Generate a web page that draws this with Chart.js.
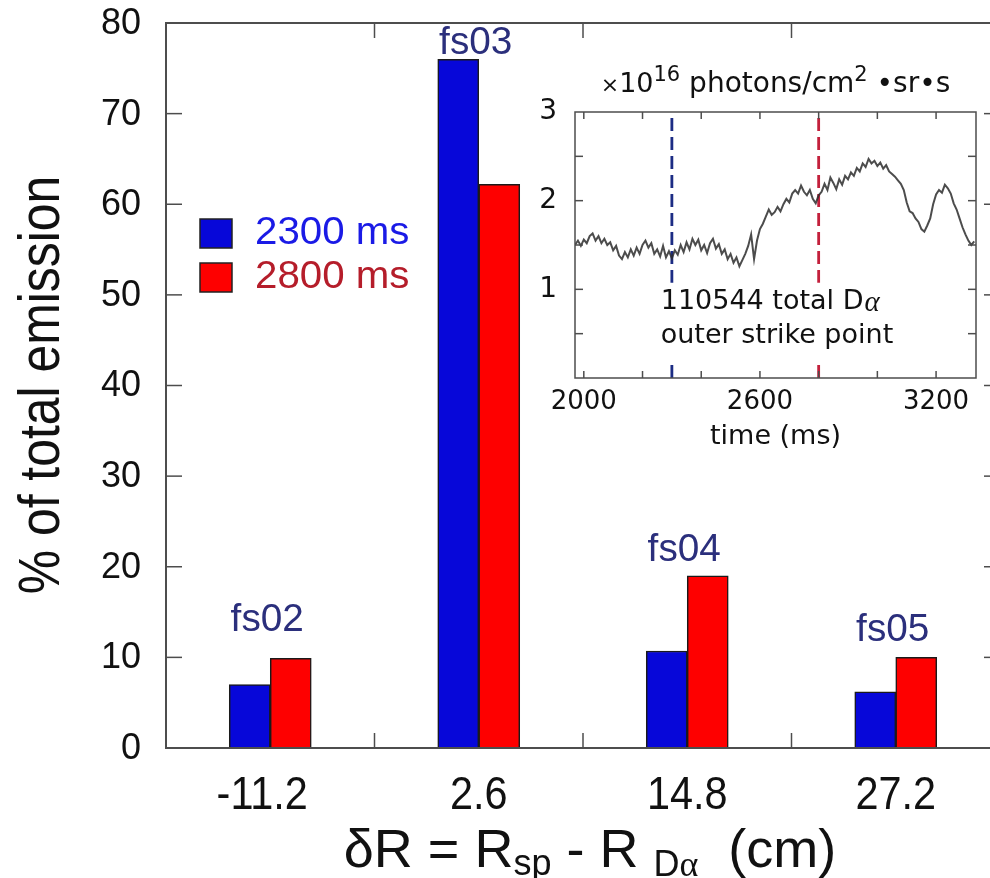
<!DOCTYPE html>
<html>
<head>
<meta charset="utf-8">
<script src="https://cdn.jsdelivr.net/npm/chart.js@4.4.0/dist/chart.umd.min.js"></script>
<style>
  html, body { margin: 0; padding: 0; background: #fff; overflow: hidden; width: 990px; height: 878px; }
  #main { position: absolute; left: 0; top: 0; }
  #inset { position: absolute; left: 540px; top: 55px; }
</style>
</head>
<body>
<canvas id="main" width="1010" height="878"></canvas>
<canvas id="inset" width="450" height="410"></canvas>
<script>
// ---- main bar chart data ----
const categories = ['-11.2', '2.6', '14.8', '27.2'];
const tags = ['fs02', 'fs03', 'fs04', 'fs05'];
const tagLevels = [14.1, 77.7, 21.8, 13.0];   // where the fsNN labels sit (y units)
const seriesNames = ['2300 ms', '2800 ms'];
const series2300 = [7.0, 76.0, 10.7, 6.2];
const series2800 = [9.9, 62.2, 19.0, 10.0];

// ---- inset trace data (total D-alpha, 1e16 photons/cm2 sr s) ----
const traceStart = 1970;
const traceStep = 10;
const traceValues = [
  1.50,1.55,1.49,1.56,1.52,1.60,1.63,1.55,1.60,1.52,
  1.57,1.50,1.53,1.44,1.49,1.38,1.34,1.42,1.36,1.45,
  1.38,1.47,1.40,1.50,1.55,1.47,1.52,1.40,1.45,1.37,
  1.49,1.36,1.43,1.35,1.44,1.39,1.50,1.42,1.53,1.45,
  1.57,1.50,1.56,1.44,1.50,1.41,1.52,1.57,1.46,1.51,
  1.40,1.45,1.34,1.40,1.30,1.36,1.26,1.33,1.40,1.49,
  1.62,1.34,1.55,1.68,1.74,1.82,1.90,1.84,1.87,1.93,
  1.88,1.96,2.02,1.98,2.08,2.12,2.08,2.17,2.10,2.06,
  2.12,2.02,1.97,2.06,2.10,2.19,2.12,2.26,2.20,2.13,
  2.24,2.18,2.28,2.24,2.32,2.28,2.37,2.33,2.42,2.38,
  2.47,2.42,2.45,2.39,2.43,2.36,2.40,2.33,2.30,2.27,
  2.23,2.19,2.12,1.98,1.88,1.86,1.80,1.76,1.68,1.65,
  1.72,1.80,1.96,2.07,2.12,2.09,2.18,2.14,2.08,1.97,
  1.90,1.80,1.70,1.62,1.55,1.50,1.54
];
const markerTimes = [2300, 2800];
const insetXTicks = [2000, 2200, 2400, 2600, 2800, 3000, 3200];
const insetXLabels = [2000, 2600, 3200];
const insetYLabels = [1, 2, 3];
const insetNoteTime = 2262;
const insetNoteLevels = [0.86, 0.47];

const SANS = '"Liberation Sans", Arial, Helvetica, sans-serif';
const WIDE = '"DejaVu Sans", Verdana, sans-serif';
const frameColor = '#4d4d4d';

function line(ctx, x1, y1, x2, y2) {
  ctx.beginPath(); ctx.moveTo(x1, y1); ctx.lineTo(x2, y2); ctx.stroke();
}
// text squeezed horizontally (the original uses a condensed face)
function squeezeText(ctx, str, x, y, sx) {
  ctx.save();
  ctx.translate(x, y);
  ctx.scale(sx, 1);
  ctx.fillText(str, 0, 0);
  ctx.restore();
}
// draw a run of pieces {t, size, dy, family}, centred on cx
function drawRuns(ctx, runs, cx, y, sx, fam) {
  let widths = runs.map(r => { ctx.font = r.size + 'px ' + (r.family || fam); return ctx.measureText(r.t).width * sx; });
  let total = widths.reduce((a, b) => a + b, 0);
  let x = cx - total / 2;
  ctx.textAlign = 'left';
  runs.forEach((r, i) => {
    ctx.font = r.size + 'px ' + (r.family || fam);
    squeezeText(ctx, r.t, x, y + (r.dy || 0), sx);
    x += widths[i];
  });
}

const mainDeco = {
  id: 'mainDeco',
  afterDraw(chart) {
    const ctx = chart.ctx, a = chart.chartArea;
    const xs = chart.scales.x, ys = chart.scales.y;
    ctx.save();
    ctx.strokeStyle = frameColor;
    ctx.lineWidth = 2;
    ctx.strokeRect(a.left, a.top, a.right - a.left, a.bottom - a.top);
    ctx.lineWidth = 1.5;
    ys.ticks.forEach(t => {
      if (t.value <= ys.min || t.value >= ys.max) return;
      const y = ys.getPixelForValue(t.value);
      line(ctx, a.left, y, a.left + 16, y);
      line(ctx, a.right, y, a.right - 16, y);
    });
    for (let i = 0; i < categories.length - 1; i++) {
      const x = (xs.getPixelForValue(i) + xs.getPixelForValue(i + 1)) / 2;
      line(ctx, x, a.bottom, x, a.bottom - 15);
      line(ctx, x, a.top, x, a.top + 15);
    }

    // y tick labels
    ctx.fillStyle = '#111';
    ctx.textAlign = 'right';
    ctx.textBaseline = 'middle';
    ctx.font = '36px ' + SANS;
    ys.ticks.forEach(t => ctx.fillText(String(t.value), a.left - 25, ys.getPixelForValue(t.value) + 1));

    // category labels
    ctx.textAlign = 'center';
    ctx.font = '46px ' + SANS;
    categories.forEach((c, i) => squeezeText(ctx, c, xs.getPixelForValue(i) - (i === 0 ? 8 : 0), 796, 0.9));

    // fsNN tags
    ctx.fillStyle = '#2b2f7c';
    ctx.font = '38px ' + SANS;
    tags.forEach((t, i) => squeezeText(ctx, t, xs.getPixelForValue(i) - 3, ys.getPixelForValue(tagLevels[i]), 1.02));

    // legend
    const legendColors = ['#1a1ae6', '#b51d2a'];
    chart.data.datasets.forEach((ds, k) => {
      const top = 219 + k * 44;
      ctx.fillStyle = ds.backgroundColor;
      ctx.fillRect(200, top, 32, 29);
      ctx.strokeStyle = '#222';
      ctx.lineWidth = 1.5;
      ctx.strokeRect(200, top, 32, 29);
      ctx.fillStyle = legendColors[k];
      ctx.textAlign = 'left';
      ctx.font = '38px ' + SANS;
      squeezeText(ctx, ds.label, 255, top + 15, 1.06);
    });

    // y axis title
    ctx.fillStyle = '#111';
    ctx.save();
    ctx.translate(43, 385);
    ctx.rotate(-Math.PI / 2);
    ctx.textAlign = 'center';
    ctx.font = '58px ' + SANS;
    squeezeText(ctx, '% of total emission', 0, 0, 0.86);
    ctx.restore();

    // x axis title with subscripts
    ctx.textBaseline = 'alphabetic';
    drawRuns(ctx, [
      { t: 'δR = R', size: 54 },
      { t: 'sp', size: 36, dy: 8 },
      { t: ' - R ', size: 54 },
      { t: 'D', size: 36, dy: 9 },
      { t: 'α', size: 36, dy: 9, family: '"Liberation Serif", serif' },
      { t: '  (cm)', size: 54 }
    ], 590, 867, 1.0, SANS);
    ctx.restore();
  }
};

new Chart(document.getElementById('main'), {
  type: 'bar',
  data: {
    labels: categories,
    datasets: [
      { label: seriesNames[0], data: series2300, backgroundColor: '#0707d9', borderColor: '#1a1a1a', borderWidth: 1.5, barThickness: 41 },
      { label: seriesNames[1], data: series2800, backgroundColor: '#fe0000', borderColor: '#1a1a1a', borderWidth: 1.5, barThickness: 41 }
    ]
  },
  options: {
    responsive: false,
    animation: false,
    devicePixelRatio: 1,
    layout: { padding: { left: 0, top: 23, right: 10, bottom: 0 } },
    plugins: { legend: { display: false }, tooltip: { enabled: false } },
    scales: {
      x: {
        grid: { display: false, drawTicks: false },
        border: { display: false },
        ticks: { display: false },
        afterFit(s) { s.height = 130; }
      },
      y: {
        min: 0, max: 80,
        ticks: { stepSize: 10, display: false },
        grid: { display: false, drawTicks: false },
        border: { display: false },
        afterFit(s) { s.width = 166; }
      }
    }
  },
  plugins: [mainDeco]
});

// ---- inset ----
const insetDeco = {
  id: 'insetDeco',
  afterDatasetsDraw(chart) {
    const ctx = chart.ctx, xs = chart.scales.x, ys = chart.scales.y;
    const x0 = xs.getPixelForValue(insetNoteTime);
    const y1 = ys.getPixelForValue(insetNoteLevels[0]);
    const y2 = ys.getPixelForValue(insetNoteLevels[1]);
    ctx.save();
    ctx.font = '27px ' + WIDE;
    const w = Math.max(ctx.measureText('110544 total Dα').width, ctx.measureText('outer strike point').width);
    ctx.fillStyle = '#fff';
    ctx.fillRect(x0 - 6, y1 - 19, w + 12, (y2 + 26) - (y1 - 19));
    ctx.fillStyle = '#111';
    ctx.textAlign = 'left';
    ctx.textBaseline = 'middle';
    ctx.fillText('110544 total D', x0, y1);
    const dw = ctx.measureText('110544 total D').width;
    ctx.font = 'italic 29px "Liberation Serif", serif';
    ctx.fillText('α', dw + x0 + 1, y1 + 2);
    ctx.font = '27px ' + WIDE;
    ctx.fillText('outer strike point', x0, y2);
    ctx.restore();
  },
  afterDraw(chart) {
    const ctx = chart.ctx, a = chart.chartArea, xs = chart.scales.x, ys = chart.scales.y;
    ctx.save();
    ctx.strokeStyle = frameColor;
    ctx.lineWidth = 1.5;
    ctx.strokeRect(a.left, a.top, a.right - a.left, a.bottom - a.top);
    ys.ticks.forEach(t => {
      if (t.value <= ys.min || t.value >= ys.max) return;
      const y = ys.getPixelForValue(t.value);
      line(ctx, a.left, y, a.left + 8, y);
      line(ctx, a.right, y, a.right - 8, y);
    });
    insetXTicks.forEach(v => {
      const x = xs.getPixelForValue(v);
      line(ctx, x, a.bottom, x, a.bottom - 7);
      line(ctx, x, a.top, x, a.top + 7);
    });
    // unit title
    ctx.fillStyle = '#111';
    ctx.textBaseline = 'alphabetic';
    drawRuns(ctx, [
      { t: '×', size: 22 },
      { t: '10', size: 27 },
      { t: '16', size: 21, dy: -11 },
      { t: ' photons/cm', size: 28 },
      { t: '2', size: 21, dy: -11 },
      { t: ' •sr•s', size: 28 }
    ], (a.left + a.right) / 2, 37, 1, WIDE);
    ctx.restore();
  }
};

const markerColors = ['#1c2c84', '#c3203c'];
new Chart(document.getElementById('inset'), {
  type: 'line',
  data: {
    datasets: [
      {
        data: traceValues.map((v, i) => ({ x: traceStart + i * traceStep, y: v })),
        borderColor: 'rgba(45,45,45,0.85)', borderWidth: 2, pointRadius: 0, tension: 0
      }
    ].concat(markerTimes.map((t, k) => ({
      data: [{ x: t, y: 0 }, { x: t, y: 3 }],
      borderColor: markerColors[k], borderWidth: 2.8, borderDash: [13, 6], pointRadius: 0
    })))
  },
  options: {
    responsive: false,
    animation: false,
    devicePixelRatio: 1,
    layout: { padding: { left: 0, top: 57, right: 14, bottom: 0 } },
    plugins: { legend: { display: false }, tooltip: { enabled: false } },
    scales: {
      x: {
        type: 'linear', min: 1970, max: 3336,
        afterBuildTicks(s) { s.ticks = insetXTicks.map(v => ({ value: v })); },
        ticks: {
          autoSkip: false, maxRotation: 0,
          callback: v => insetXLabels.includes(v) ? String(v) : '',
          font: { family: WIDE, size: 26 }, color: '#111', padding: 9
        },
        grid: { display: false, drawTicks: false },
        border: { display: false },
        title: { display: true, text: 'time (ms)', font: { family: WIDE, size: 27 }, color: '#111', padding: { top: 0, bottom: 12 } },
        afterFit(s) { s.height = 87; }
      },
      y: {
        min: 0, max: 3,
        ticks: {
          stepSize: 0.5,
          callback: v => insetYLabels.includes(v) ? String(v) : '',
          font: { family: WIDE, size: 28 }, color: '#111', padding: 18
        },
        grid: { display: false, drawTicks: false },
        border: { display: false },
        afterFit(s) { s.width = 35; }
      }
    }
  },
  plugins: [insetDeco]
});
</script>
</body>
</html>
